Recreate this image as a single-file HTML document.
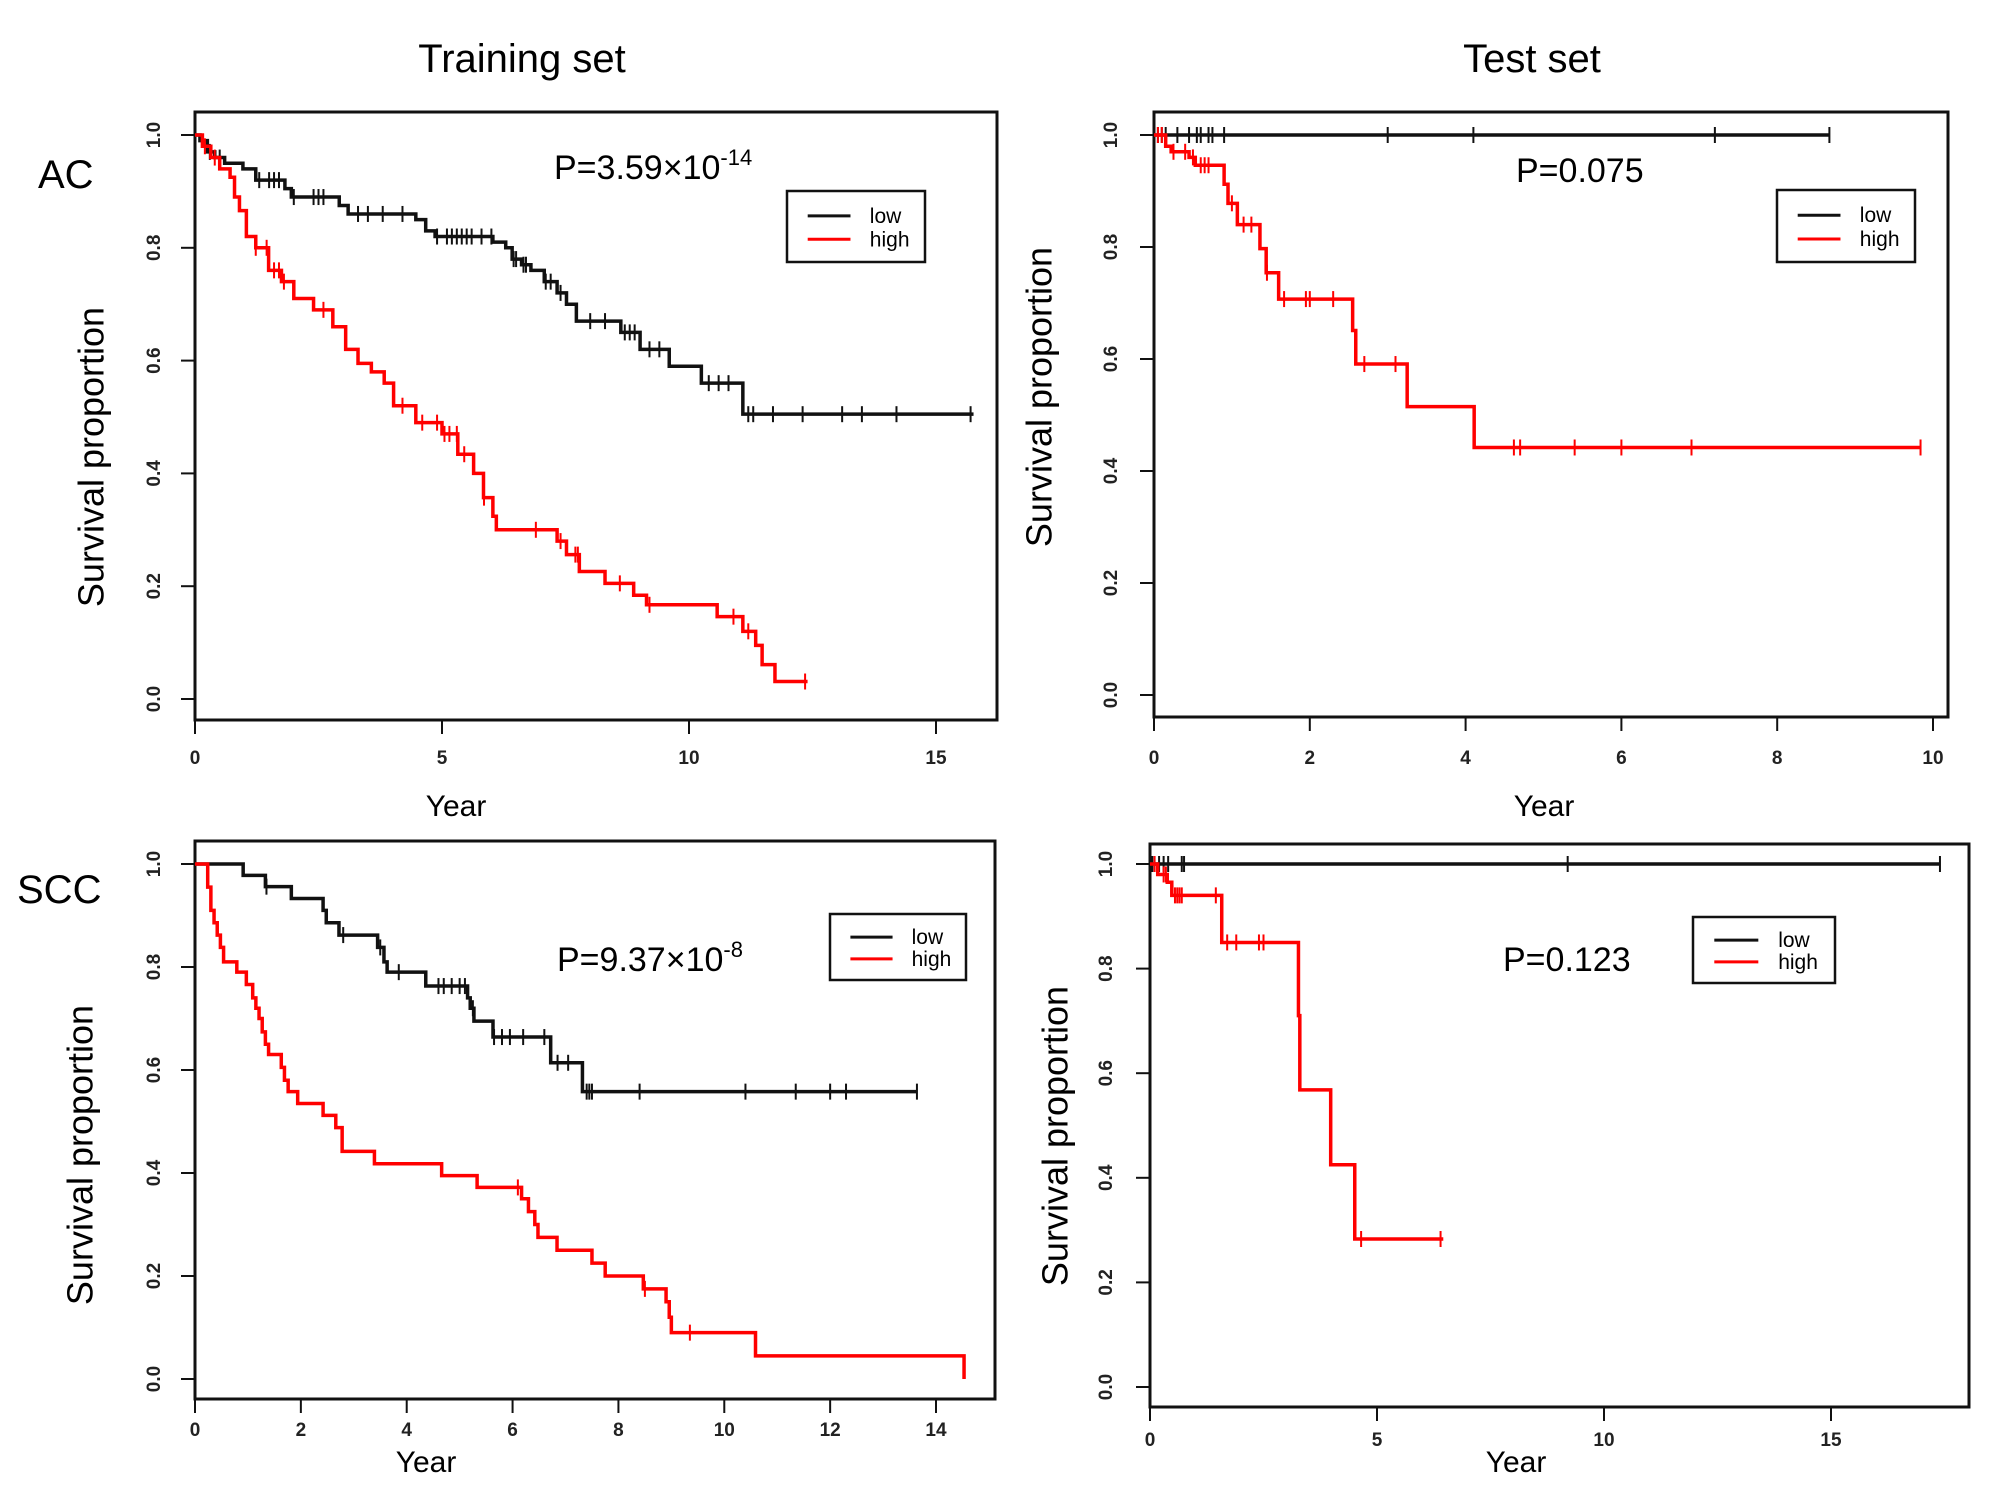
<!DOCTYPE html>
<html><head><meta charset="utf-8"><style>
html,body{margin:0;padding:0;background:#fff;}
svg{display:block;}
text{font-family:"Liberation Sans",Arial,sans-serif;}
</style></head><body>
<svg id="fig" width="2008" height="1497" viewBox="0 0 2008 1497" xmlns="http://www.w3.org/2000/svg">
<rect x="0" y="0" width="2008" height="1497" fill="#fff"/>
<text x="522" y="72" font-size="40" text-anchor="middle">Training set</text>
<text x="1532" y="72" font-size="40" text-anchor="middle">Test set</text>
<text x="38" y="188" font-size="40">AC</text>
<text x="17" y="903" font-size="40">SCC</text>
</svg>
<script>
// ---- Panel A: AC training ----
const acTrainLowTimes=[0.1,0.25,0.4,0.6,0.97,1.23,1.82,1.95,2.92,3.1,4.47,4.67,4.86,6.03,6.29,6.42,6.61,6.8,7.07,7.33,7.52,7.72,8.62,9.01,9.6,10.25,11.09];
const acTrainLowSurv=[0.99,0.97,0.96,0.95,0.94,0.92,0.905,0.89,0.875,0.86,0.85,0.83,0.82,0.81,0.80,0.78,0.77,0.76,0.74,0.72,0.70,0.67,0.65,0.62,0.59,0.56,0.505];
const acTrainLowCensor=[0.3,0.5,1.3,1.5,1.6,1.7,2.0,2.4,2.5,2.6,3.3,3.5,3.8,4.2,4.9,5.1,5.2,5.3,5.4,5.5,5.6,5.8,6.0,6.45,6.5,6.65,6.7,7.1,7.2,7.4,8.0,8.3,8.7,8.8,8.9,9.2,9.4,10.4,10.6,10.8,11.2,11.3,11.7,12.3,13.1,13.5,14.2,15.7];
const acTrainLowEnd=15.76;
const acTrainHighTimes=[0.15,0.32,0.5,0.71,0.8,0.9,1.04,1.23,1.49,1.75,2.0,2.4,2.79,3.05,3.3,3.57,3.83,4.02,4.47,5.0,5.32,5.64,5.84,6.03,6.1,7.33,7.52,7.78,8.3,8.88,9.14,10.57,11.09,11.35,11.48,11.74];
const acTrainHighSurv=[0.98,0.96,0.94,0.925,0.89,0.866,0.82,0.80,0.76,0.74,0.71,0.69,0.66,0.62,0.595,0.58,0.56,0.52,0.49,0.47,0.434,0.40,0.357,0.324,0.30,0.28,0.256,0.226,0.205,0.184,0.167,0.146,0.12,0.095,0.061,0.031];
const acTrainHighCensor=[0.2,0.4,1.23,1.45,1.6,1.7,1.8,2.6,4.2,4.6,4.9,5.05,5.15,5.3,5.45,5.85,6.9,7.4,7.7,7.75,8.6,9.2,10.9,11.2,12.35];
const acTrainHighEnd=12.4;
const acTrainXTicks=[0,5,10,15];
// ---- Panel B: AC test ----
const acTestLowTimes=[];
const acTestLowSurv=[];
const acTestLowCensor=[0.05,0.1,0.15,0.3,0.45,0.55,0.6,0.7,0.75,0.9,3.0,4.1,7.2,8.67];
const acTestLowEnd=8.67;
const acTestHighTimes=[0.15,0.22,0.45,0.53,0.9,0.95,1.07,1.36,1.44,1.6,2.55,2.59,3.25,4.11];
const acTestHighSurv=[0.98,0.97,0.96,0.946,0.912,0.878,0.84,0.797,0.754,0.707,0.651,0.591,0.515,0.442];
const acTestHighCensor=[0.05,0.1,0.25,0.4,0.5,0.6,0.65,0.7,1.0,1.15,1.25,1.45,1.67,1.95,2.0,2.3,2.7,3.1,4.62,4.7,5.4,6.0,6.9,9.84];
const acTestHighEnd=9.84;
const acTestXTicks=[0,2,4,6,8,10];
// ---- Panel C: SCC training ----
const sccTrainLowTimes=[0.91,1.33,1.82,2.42,2.48,2.72,3.45,3.57,3.63,4.36,5.15,5.2,5.27,5.63,6.72,7.32];
const sccTrainLowSurv=[0.978,0.956,0.933,0.91,0.886,0.862,0.838,0.81,0.79,0.763,0.74,0.72,0.695,0.664,0.614,0.558];
const sccTrainLowCensor=[1.35,2.8,3.5,3.85,4.6,4.7,4.85,5.0,5.1,5.25,5.65,5.8,5.95,6.2,6.6,6.85,7.05,7.4,7.45,7.5,8.4,10.4,11.35,12.0,12.3,13.64];
const sccTrainLowEnd=13.64;
const sccTrainHighTimes=[0.24,0.3,0.36,0.42,0.48,0.54,0.79,0.97,1.09,1.15,1.21,1.27,1.33,1.39,1.63,1.69,1.76,1.94,2.42,2.66,2.78,3.39,4.66,5.33,6.17,6.3,6.42,6.48,6.84,7.5,7.75,8.47,8.9,8.96,9.0,10.59,14.53];
const sccTrainHighSurv=[0.955,0.91,0.886,0.862,0.838,0.81,0.79,0.766,0.74,0.72,0.70,0.674,0.65,0.63,0.605,0.58,0.558,0.535,0.512,0.488,0.442,0.418,0.395,0.372,0.35,0.325,0.30,0.275,0.25,0.225,0.20,0.175,0.15,0.12,0.09,0.045,0.0];
const sccTrainHighCensor=[6.1,8.5,9.35];
const sccTrainHighEnd=14.53;
const sccTrainXTicks=[0,2,4,6,8,10,12,14];
// ---- Panel D: SCC test ----
const sccTestLowTimes=[];
const sccTestLowSurv=[];
const sccTestLowCensor=[0.05,0.1,0.2,0.3,0.4,0.7,0.75,9.2,17.4];
const sccTestLowEnd=17.4;
const sccTestHighTimes=[0.17,0.38,0.48,1.58,3.27,3.3,3.98,4.51];
const sccTestHighSurv=[0.98,0.965,0.94,0.85,0.71,0.568,0.425,0.283];
const sccTestHighCensor=[0.1,0.3,0.35,0.55,0.6,0.65,0.7,1.45,1.7,1.9,2.4,2.5,4.65,6.4];
const sccTestHighEnd=6.46;
const sccTestXTicks=[0,5,10,15];
const yTicks=[0.0,0.2,0.4,0.6,0.8,1.0];

const NS='http://www.w3.org/2000/svg';
const svg=document.getElementById('fig');
function mk(tag,attrs,parent){const e=document.createElementNS(NS,tag);for(const k in attrs)e.setAttribute(k,attrs[k]);(parent||svg).appendChild(e);return e;}

const panels=[
 {id:'ac-train',box:[195,112,997,720],x0:195,xPer:741/15,y1:135,y0:699,
  low:[acTrainLowTimes,acTrainLowSurv,acTrainLowCensor,acTrainLowEnd],high:[acTrainHighTimes,acTrainHighSurv,acTrainHighCensor,acTrainHighEnd],
  xt:acTrainXTicks,xtY:764,yearX:456,yearY:816,ytX:160,ytitle:[94,457],lw:3.5,
  p:{x:554,y:179,main:'P=3.59×10',sup:'-14'},leg:[787,191,138,71]},
 {id:'ac-test',box:[1154,112,1948,717],x0:1154,xPer:779/10,y1:135,y0:695,
  low:[acTestLowTimes,acTestLowSurv,acTestLowCensor,acTestLowEnd],high:[acTestHighTimes,acTestHighSurv,acTestHighCensor,acTestHighEnd],
  xt:acTestXTicks,xtY:764,yearX:1544,yearY:816,ytX:1117,ytitle:[1042,397],lw:3.5,
  p:{x:1516,y:182,main:'P=0.075',sup:''},leg:[1777,190,138,72]},
 {id:'scc-train',box:[195,841,995,1399],x0:195,xPer:741/14,y1:864,y0:1379,
  low:[sccTrainLowTimes,sccTrainLowSurv,sccTrainLowCensor,sccTrainLowEnd],high:[sccTrainHighTimes,sccTrainHighSurv,sccTrainHighCensor,sccTrainHighEnd],
  xt:sccTrainXTicks,xtY:1436,yearX:426,yearY:1472,ytX:160,ytitle:[83,1155],lw:3.5,
  p:{x:557,y:971,main:'P=9.37×10',sup:'-8'},leg:[830,914,136,66]},
 {id:'scc-test',box:[1150,844,1969,1407],x0:1150,xPer:681/15,y1:864,y0:1387,
  low:[sccTestLowTimes,sccTestLowSurv,sccTestLowCensor,sccTestLowEnd],high:[sccTestHighTimes,sccTestHighSurv,sccTestHighCensor,sccTestHighEnd],
  xt:sccTestXTicks,xtY:1446,yearX:1516,yearY:1472,ytX:1112,ytitle:[1058,1136],lw:3.5,
  p:{x:1503,y:971,main:'P=0.123',sup:''},leg:[1693,917,142,66]}
];

function survAt(times,surv,t){let s=1;for(let i=0;i<times.length;i++){if(times[i]<=t)s=surv[i];}return s;}

panels.forEach(P=>{
  const g=mk('g',{});
  
  
  const xs=t=>P.x0+t*P.xPer, ys=v=>P.y0+(P.y1-P.y0)*v;
  const [bx1,by1,bx2,by2]=P.box;
  const box=mk('rect',{x:bx1,y:by1,width:bx2-bx1,height:by2-by1,fill:'none',stroke:'#111','stroke-width':3},g);
  
  
  yTicks.forEach(v=>{
    mk('line',{x1:bx1-14,x2:bx1,y1:ys(v),y2:ys(v),stroke:'#111','stroke-width':2},g);
    const t=mk('text',{x:P.ytX,y:ys(v),'font-size':19,'font-weight':'bold','text-anchor':'middle','fill':'#222',transform:`rotate(-90 ${P.ytX} ${ys(v)})`},g);
    
    
    t.textContent=v.toFixed(1);
  });
  P.xt.forEach(v=>{
    mk('line',{x1:xs(v),x2:xs(v),y1:by2,y2:by2+14,stroke:'#111','stroke-width':2},g);
    const t=mk('text',{x:xs(v),y:P.xtY,'font-size':19,'font-weight':'bold','text-anchor':'middle','fill':'#222'},g);
    
    
    t.textContent=v;
  });
  const yr=mk('text',{x:P.yearX,y:P.yearY,'font-size':30,'text-anchor':'middle'},g);
  
  
  yr.textContent='Year';
  const [tx,ty]=P.ytitle;
  const yt=mk('text',{x:tx,y:ty,'font-size':36,'text-anchor':'middle','dominant-baseline':'middle',transform:`rotate(-90 ${tx} ${ty})`},g);
  
  
  yt.textContent='Survival proportion';
  [['low','#111',P.low],['high','#f00',P.high]].forEach(([nm,col,d])=>{
    const [times,surv,cens,end]=d;
    let path=`M${xs(0)},${ys(1)}`;
    for(let i=0;i<times.length;i++){path+=` H${xs(times[i])} V${ys(surv[i])}`;}
    path+=` H${xs(end)}`;
    const p=mk('path',{d:path,fill:'none',stroke:col,'stroke-width':P.lw},g);
    
    
    cens.forEach(c=>{
      const v=survAt(times,surv,c);
      const m=mk('line',{x1:xs(c),x2:xs(c),y1:ys(v)-8,y2:ys(v)+8,stroke:col,'stroke-width':2},g);
      
      
    });
  });
  const pt=mk('text',{x:P.p.x,y:P.p.y,'font-size':34},g);
  
  
  pt.textContent=P.p.main;
  if(P.p.sup){const sp=mk('tspan',{'font-size':22,dy:-14},pt);sp.textContent=P.p.sup;}
  const [lx,ly,lw,lh]=P.leg;
  const lg=mk('g',{},g);
  
  
  mk('rect',{x:lx,y:ly,width:lw,height:lh,fill:'#fff',stroke:'#111','stroke-width':2.5},lg);
  [['low','#111',0.35],['high','#f00',0.68]].forEach(([nm,col,f])=>{
    const yy=ly+lh*f;
    mk('line',{x1:lx+lw*0.15,x2:lx+lw*0.46,y1:yy,y2:yy,stroke:col,'stroke-width':3},lg);
    const lt=mk('text',{x:lx+lw*0.6,y:yy+7,'font-size':21},lg);
    
    
    lt.textContent=nm;
  });
});
</script>
</body></html>
